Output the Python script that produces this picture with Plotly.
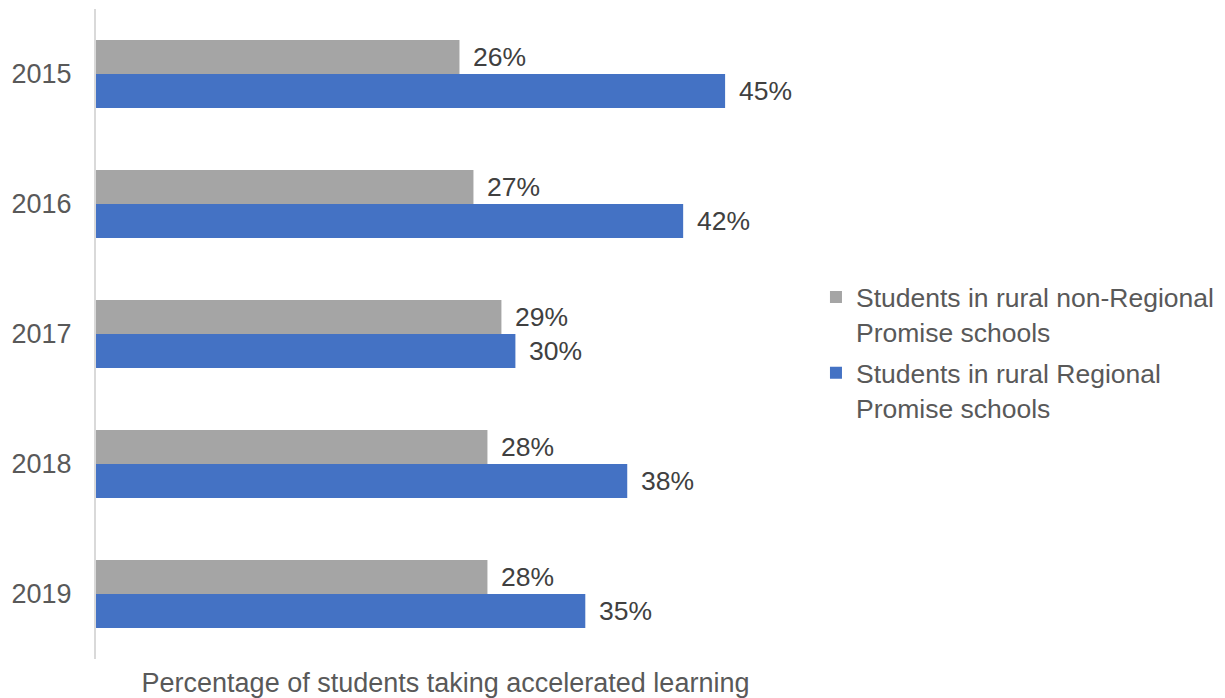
import plotly.graph_objects as go

# Accelerated learning participation, rural students
years = ["2015", "2016", "2017", "2018", "2019"]
non_regional = [0.26, 0.27, 0.29, 0.28, 0.28]
regional = [0.45, 0.42, 0.30, 0.38, 0.35]

series_names = [
    "Students in rural non-Regional<br>Promise schools",
    "Students in rural Regional<br>Promise schools",
]
series_colors = ["#A5A5A5", "#4472C4"]

FONT = "Liberation Sans, Arial, sans-serif"

fig = go.Figure()
for i, (name, vals, color) in enumerate(zip(series_names, [non_regional, regional], series_colors)):
    fig.add_trace(go.Bar(
        y=years, x=vals, name=name, orientation="h",
        marker=dict(color=color, line=dict(width=0)),
        legendgroup=f"g{i}", hoverinfo="skip",
    ))

# value labels to the right of each bar (upper bar = first series)
annotations = []
for yshift, vals in zip([17, -17], [non_regional, regional]):
    for idx, v in enumerate(vals):
        annotations.append(dict(
            x=v, y=idx, xref="x", yref="y", text=f"{round(v * 100)}%",
            showarrow=False, xanchor="left", yanchor="middle",
            xshift=12, yshift=yshift,
            font=dict(family=FONT, size=26.5, color="#404040"),
        ))

fig.update_layout(
    width=1225, height=698,
    margin=dict(l=96, r=430, t=9, b=39, autoexpand=False),
    paper_bgcolor="white", plot_bgcolor="white",
    barmode="group", bargap=0.477, bargroupgap=0,
    font=dict(family=FONT, size=26.5, color="#595959"),
    annotations=annotations,
    showlegend=True,
    legend=dict(
        x=1.03, xanchor="left", y=0.472, yanchor="middle",
        valign="top", font=dict(family=FONT, size=26.5, color="#595959"),
        bgcolor="rgba(0,0,0,0)", tracegroupgap=4,
    ),
    xaxis=dict(
        range=[0, 0.5], showgrid=False, zeroline=False, showline=False,
        showticklabels=False, ticks="",
        title=dict(text="Percentage of students taking accelerated learning",
                   font=dict(family=FONT, size=27, color="#595959"), standoff=15),
    ),
    yaxis=dict(
        type="category", range=[4.5, -0.5], showgrid=False, zeroline=False,
        showline=True, linecolor="#D9D9D9", linewidth=2, ticks="",
        ticklabelstandoff=17,
        tickfont=dict(family=FONT, size=27, color="#595959"),
    ),
)

fig.write_html("out.html")
